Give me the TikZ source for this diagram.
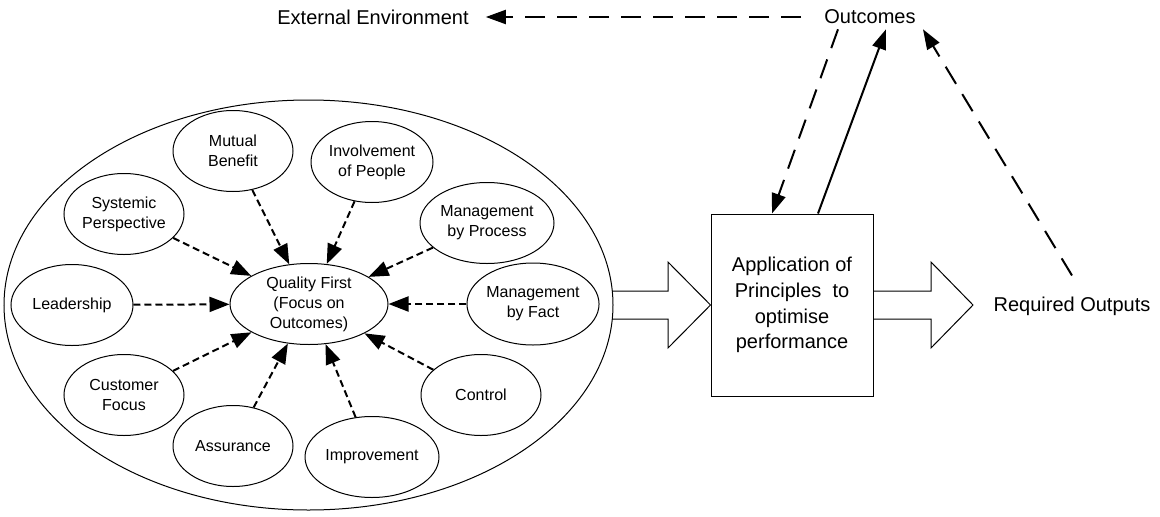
\documentclass[tikz,border=0pt]{standalone}
\usepackage{fontspec}
\setmainfont{Liberation Sans}
\usetikzlibrary{shapes.geometric,arrows.meta}

\begin{document}
\begin{tikzpicture}[x=1pt,y=-1pt,
        principle/.style={draw, ellipse, line width=1pt, inner sep=0pt,
            minimum width=120pt, minimum height=81pt, align=center,
            font=\fontsize{16}{20}\selectfont},
        feeds/.style={-{Triangle[length=20pt,width=15pt]}, line width=2pt,
            dash pattern=on 7pt off 4pt},
        link/.style={-{Triangle[length=20pt,width=14pt]}, line width=2pt},
        longdash/.style={dash pattern=on 20pt off 12pt},
        bigtext/.style={font=\fontsize{20}{25.7}\selectfont, align=center, inner sep=2pt},
        blockarrow/.style={line width=1pt, line join=miter}]
        \useasboundingbox (0,0) rectangle (1160,517);

        % the principles around quality first
        \node[draw, ellipse, line width=1pt, minimum width=609pt, minimum height=410pt] (field) at (308.5,305) {};

        \node[principle, minimum width=158pt] (qf) at (309,304) {Quality First\\(Focus on\\Outcomes)};

        \node[principle] (mb) at (233,151) {Mutual\\Benefit};
        \node[principle] (iop) at (372,162) {Involvement\\of People};
        \node[principle] (sp) at (124,214) {Systemic\\Perspective};
        \node[principle, minimum width=134pt] (mbp) at (487,223) {Management\\by Process};
        \node[principle, minimum width=122pt] (lead) at (72,305) {Leadership};
        \node[principle, minimum width=128pt, minimum height=82pt] (mbf) at (533,304) {Management\\by Fact};
        \node[principle] (cf) at (124,395) {Customer\\Focus};
        \node[principle] (ctrl) at (481,395) {Control};
        \node[principle] (as) at (233,446) {Assurance};
        \node[principle, minimum width=134pt] (imp) at (372,457) {Improvement};

        \draw[feeds] (mb) -- (qf);
        \draw[feeds] (iop) -- (qf);
        \draw[feeds] (sp) -- (qf);
        \draw[feeds] (mbp) -- (qf);
        \draw[feeds] (lead) -- (qf);
        \draw[feeds] (mbf) -- (qf);
        \draw[feeds] (cf) -- (qf);
        \draw[feeds] (ctrl) -- (qf);
        \draw[feeds] (as) -- (qf);
        \draw[feeds] (imp) -- (qf);

        % application box and outputs
        \node[draw, line width=1pt, minimum width=162pt, minimum height=182pt, bigtext] (app) at (792,305)
            {Application of\\Principles\ \ to\\optimise\\performance};

        \node[bigtext] (req) at (1072,306) {Required Outputs};
        \node[bigtext, inner ysep=5pt] (outc) at (870,17) {Outcomes};
        \node[bigtext] (ext) at (373,17) {External Environment};

        \draw[blockarrow] (612,291) -- (668,291) -- (668,262) -- (app.west)
            -- (668,348) -- (668,319) -- (612,319);
        \draw[blockarrow] (app.east |- 0,291) -- (931,291) -- (931,262) -- (973,305)
            -- (931,348) -- (931,319) -- (app.east |- 0,319);

        \draw[link, longdash] ([xshift=-21pt]outc.west) -- ([xshift=15pt]ext.east);
        \draw[link, longdash] ([xshift=-32pt]outc.south) -- ([xshift=-20pt]app.north);
        \draw[link] ([xshift=26pt]app.north) -- ([xshift=16pt]outc.south);
        \draw[link, longdash] ([yshift=19pt]req.north) -- ([xshift=53pt]outc.south);
    \end{tikzpicture}
\end{document}
